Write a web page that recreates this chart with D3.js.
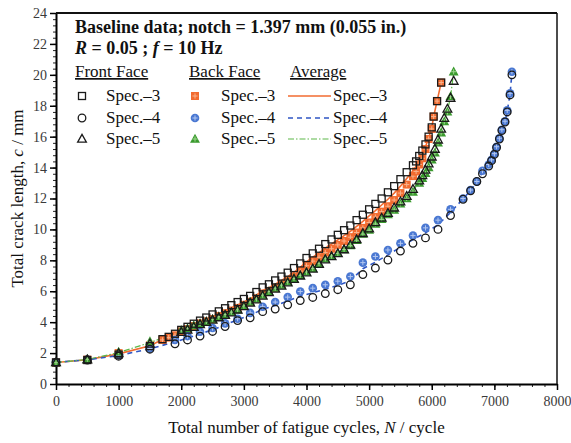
<!DOCTYPE html>
<html>
<head>
<meta charset="utf-8">
<script src="https://cdn.jsdelivr.net/npm/d3@7"></script>
<style>
  body { margin: 0; background: #fff; }
  svg { display: block; font-family: 'Liberation Serif', 'DejaVu Serif', serif; }
</style>
</head>
<body>
<div id="chart"></div>
<script>
'use strict';

//#region data
const xTicks = [0, 1000, 2000, 3000, 4000, 5000, 6000, 7000, 8000];
const yTicks = [0, 2, 4, 6, 8, 10, 12, 14, 16, 18, 20, 22, 24];

//Spec.-3
const spec3Cycles = [0, 500, 1000, 1500, 1700, 1800, 1900,
  2000, 2100, 2200, 2300, 2400, 2500, 2600, 2700, 2800, 2900,
  3000, 3100, 3200, 3300, 3400, 3500, 3600, 3700, 3800, 3900,
  4000, 4100, 4200, 4300, 4400, 4500, 4600, 4700, 4800, 4900,
  5000, 5100, 5200, 5300, 5400, 5500, 5600, 5700,
  5750, 5800, 5850, 5900, 5950, 6000, 6030, 6085, 6150];
const spec3Front = [1.4, 1.55, 1.9, 2.45, 2.9, 3.05, 3.25,
  3.5, 3.7, 3.9, 4.1, 4.3, 4.5, 4.7, 4.9, 5.1, 5.3,
  5.5, 5.7, 5.95, 6.25, 6.45, 6.7, 6.95, 7.2, 7.5, 7.8,
  8.15, 8.45, 8.75, 9.05, 9.35, 9.65, 9.95, 10.25, 10.6, 10.95,
  11.3, 11.65, 12.0, 12.4, 12.8, 13.25, 13.7, 14.15,
  14.4, 14.75, 15.1, 15.5, 16.0, 16.6, 17.3, 18.3, 19.5];
const spec3Back = [1.38, 1.58, 2.0, 2.5, 2.85, 3.0, 3.15,
  3.4, 3.55, 3.75, 3.92, 4.05, 4.2, 4.4, 4.58, 4.75, 4.92,
  5.12, 5.32, 5.55, 5.85, 6.02, 6.22, 6.45, 6.7, 6.95, 7.3,
  7.65, 7.95, 8.2, 8.5, 8.75, 9.0, 9.25, 9.5, 9.8, 10.1,
  10.45, 10.8, 11.15, 11.5, 11.9, 12.35, 12.9, 13.45,
  13.75, 14.2, 14.6, 15.2, 15.85, 16.5, 17.3, 18.3, 19.5];
const spec3Avg = [1.39, 1.57, 1.95, 2.48, 2.88, 3.03, 3.2,
  3.45, 3.62, 3.82, 4.0, 4.18, 4.35, 4.55, 4.74, 4.92, 5.11,
  5.31, 5.51, 5.75, 6.05, 6.23, 6.46, 6.7, 6.95, 7.22, 7.55,
  7.9, 8.2, 8.48, 8.78, 9.05, 9.32, 9.6, 9.88, 10.2, 10.52,
  10.88, 11.22, 11.58, 11.95, 12.35, 12.8, 13.3, 13.8,
  14.08, 14.48, 14.85, 15.35, 15.92, 16.55, 17.3, 18.3, 19.5];

//Spec.-4
const spec4Cycles = [0, 500, 1000, 1500, 1900,
  2100, 2300, 2500, 2700, 2900, 3100, 3300, 3500, 3700, 3900,
  4100, 4300, 4500, 4700, 4900, 5100, 5300, 5500, 5700, 5900,
  6100, 6300, 6500, 6620, 6720, 6810, 6910, 6955, 7000, 7035,
  7080, 7120, 7170, 7205, 7250, 7280];
const spec4Front = [1.4, 1.55, 1.8, 2.25, 2.6,
  2.85, 3.1, 3.4, 3.72, 4.1, 4.28, 4.68, 4.85, 5.12, 5.4,
  5.6, 5.85, 6.1, 6.42, 7.08, 7.5, 8.02, 8.6, 9.1, 9.45,
  10.0, 10.9, 11.95, 12.5, 13.1, 13.6, 14.1, 14.45, 14.85, 15.3,
  15.85, 16.4, 16.95, 17.6, 18.7, 20.0];
const spec4Back = [1.4, 1.58, 1.88, 2.3, 2.85,
  3.1, 3.38, 3.62, 3.92, 4.22, 4.6, 5.0, 5.3, 5.62, 5.98,
  6.2, 6.42, 6.65, 6.95, 7.85, 8.25, 8.67, 9.1, 9.6, 10.1,
  10.6, 11.3, 12.0, 12.55, 13.1, 13.8, 14.2, 14.5, 14.9, 15.35,
  15.9, 16.45, 17.0, 17.7, 18.8, 20.2];
const spec4Avg = [1.4, 1.57, 1.84, 2.28, 2.72,
  2.98, 3.24, 3.51, 3.82, 4.16, 4.44, 4.84, 5.08, 5.37, 5.69,
  5.9, 6.14, 6.38, 6.68, 7.46, 7.88, 8.35, 8.85, 9.35, 9.78,
  10.3, 11.1, 11.98, 12.52, 13.1, 13.7, 14.15, 14.48, 14.88, 15.32,
  15.88, 16.42, 16.98, 17.65, 18.75, 20.1];

//Spec.-5
const spec5Cycles = [0, 500, 1000, 1500,
  2000, 2100, 2200, 2300, 2400, 2500, 2600, 2700, 2800, 2900,
  3000, 3100, 3200, 3300, 3400, 3500, 3600, 3700, 3800, 3900,
  4000, 4100, 4200, 4300, 4400, 4500, 4600, 4700, 4800, 4900,
  5000, 5100, 5200, 5300, 5400, 5500, 5600, 5700, 5800,
  5850, 5900, 5950, 6000, 6050, 6100, 6150, 6200, 6250, 6300, 6350];
const spec5Front = [1.4, 1.58, 1.98, 2.6,
  3.35, 3.5, 3.68, 3.85, 4.0, 4.15, 4.3, 4.45, 4.62, 4.8,
  5.02, 5.25, 5.45, 5.7, 5.92, 6.15, 6.35, 6.55, 6.78, 7.0,
  7.2, 7.45, 7.75, 8.05, 8.25, 8.45, 8.7, 9.0, 9.35, 9.75,
  10.05, 10.45, 10.75, 11.05, 11.4, 11.8, 12.15, 12.6, 13.15,
  13.5, 13.85, 14.25, 14.7, 15.2, 15.8, 16.5, 17.2, 17.8, 18.5, 19.6];
const spec5Back = [1.38, 1.6, 2.08, 2.75,
  3.48, 3.6, 3.78, 3.92, 4.05, 4.2, 4.35, 4.5, 4.65, 4.8,
  5.05, 5.3, 5.5, 5.75, 5.98, 6.2, 6.4, 6.6, 6.82, 7.03,
  7.25, 7.48, 7.8, 8.1, 8.28, 8.45, 8.7, 8.95, 9.3, 9.7,
  9.95, 10.35, 10.65, 10.95, 11.25, 11.65, 12.0, 12.42, 13.0,
  13.3, 13.62, 14.0, 14.5, 14.95, 15.6, 16.25, 16.97, 17.6, 18.6, 20.2];
const spec5Avg = [1.39, 1.59, 2.03, 2.68,
  3.42, 3.55, 3.73, 3.88, 4.02, 4.18, 4.32, 4.48, 4.64, 4.8,
  5.04, 5.28, 5.48, 5.72, 5.95, 6.18, 6.38, 6.58, 6.8, 7.02,
  7.22, 7.46, 7.78, 8.08, 8.26, 8.45, 8.7, 8.98, 9.32, 9.72,
  10.0, 10.4, 10.7, 11.0, 11.32, 11.72, 12.08, 12.5, 13.08,
  13.4, 13.74, 14.12, 14.6, 15.08, 15.7, 16.38, 17.08, 17.7, 18.55, 20.2];

const specNames = ['Spec.\u20133', 'Spec.\u20134', 'Spec.\u20135'];
//#endregion

//#region layout and styles
let svgWidth = 571, svgHeight = 443;
let margin = {top: 13, right: 14, bottom: 59, left: 56};
let width = svgWidth - margin.left - margin.right;
let height = svgHeight - margin.top - margin.bottom;

const serif = 'Liberation Serif';
const orange = '#f26b30', orangeLight = '#f9b38c';
const blue = '#4a78d2', blueLight = '#b3c7f0';
const green = '#3a9a2e', greenLight = '#9fd68f';
//#endregion

let svg = d3.select('#chart').append('svg').attr('width', svgWidth).attr('height', svgHeight);
let g = svg.append('g').attr('transform', 'translate(' + margin.left + ',' + margin.top + ')');

let x = d3.scaleLinear().domain([0, 8000]).range([0, width]);
let y = d3.scaleLinear().domain([0, 24]).range([height, 0]);

drawAxes();

//series definitions, built from the arrays above
let series = [
  {cycles: spec3Cycles, front: spec3Front, back: spec3Back, avg: spec3Avg, shape: 'square', color: orange, light: orangeLight, dash: null, lw: 1.6},
  {cycles: spec4Cycles, front: spec4Front, back: spec4Back, avg: spec4Avg, shape: 'circle', color: blue, light: blueLight, dash: '5,4', lw: 1.6, lineColor: '#2f56c4'},
  {cycles: spec5Cycles, front: spec5Front, back: spec5Back, avg: spec5Avg, shape: 'triangle', color: green, light: greenLight, dash: '6,2,1.5,2', lw: 1.2, lineColor: '#5cb848'}
];

let plot = g.append('g');

//average lines
let line = d3.line().x(function(d) { return x(d.n); }).y(function(d) { return y(d.c); });
series.forEach(function(s) {
  let pts = s.cycles.map(function(n, i) { return {n: n, c: s.avg[i]}; });
  plot.append('path').attr('d', line(pts))
    .attr('fill', 'none').attr('stroke', s.lineColor || s.color).attr('stroke-width', s.lw)
    .attr('stroke-dasharray', s.dash);
});

//back face (filled) markers
series.forEach(function(s) {
  s.cycles.forEach(function(n, i) {
    backMarker(plot, x(n), y(s.back[i]), s);
  });
});

//front face (open) markers on top
series.forEach(function(s) {
  s.cycles.forEach(function(n, i) {
    frontMarker(plot, x(s.cycles[i]), y(s.front[i]), s.shape);
  });
});

drawLegend();

function drawAxes() {
  let xMinor = d3.range(0, 8001, 200);
  let yMinor = d3.range(0, 24.01, 0.4);

  //minor ticks first
  g.append('g').attr('transform', 'translate(0,' + height + ')')
    .call(d3.axisBottom(x).tickValues(xMinor).tickSize(3).tickFormat(''))
    .call(function(a) { a.select('.domain').remove(); a.selectAll('line').attr('stroke', '#222'); });
  g.append('g')
    .call(d3.axisLeft(y).tickValues(yMinor).tickSize(3).tickFormat(''))
    .call(function(a) { a.select('.domain').remove(); a.selectAll('line').attr('stroke', '#222'); });

  //major ticks + labels
  let xAxis = g.append('g').attr('transform', 'translate(0,' + height + ')')
    .call(d3.axisBottom(x).tickValues(xTicks).tickSize(6).tickPadding(6).tickSizeOuter(0).tickFormat(d3.format('d')));
  styleAxis(xAxis);

  let yAxis = g.append('g')
    .call(d3.axisLeft(y).tickValues(yTicks).tickSize(6).tickPadding(3).tickSizeOuter(0));
  styleAxis(yAxis);

  //top and right frame
  g.append('line').attr('x1', 0).attr('x2', width).attr('y1', 0).attr('y2', 0)
    .attr('stroke', '#111').attr('stroke-width', 2);
  g.append('line').attr('x1', width).attr('x2', width).attr('y1', 0).attr('y2', height)
    .attr('stroke', '#111').attr('stroke-width', 1.5);

  //axis titles
  let xt = svg.append('text').attr('x', margin.left + width / 2).attr('y', 433)
    .attr('text-anchor', 'middle').attr('font-size', 17).attr('fill', '#111');
  xt.append('tspan').text('Total number of fatigue cycles, ');
  xt.append('tspan').attr('font-style', 'italic').text('N');
  xt.append('tspan').text(' / cycle');

  let yt = svg.append('text').attr('transform', 'translate(23,' + (margin.top + height / 2) + ') rotate(-90)')
    .attr('text-anchor', 'middle').attr('font-size', 17).attr('fill', '#111');
  yt.append('tspan').text('Total crack length, ');
  yt.append('tspan').attr('font-style', 'italic').text('c');
  yt.append('tspan').text(' / mm');
}

function styleAxis(a) {
  a.attr('font-family', serif).attr('font-size', 14);
  a.selectAll('text').attr('font-family', serif).attr('fill', '#3a3a3a');
  a.select('.domain').attr('stroke-width', 2);
  a.selectAll('.tick line').attr('stroke-width', 1.5);
}

function frontMarker(parent, cx, cy, shape) {
  let st = {fill: 'none', stroke: '#1a1a1a', w: 1.3};
  if (shape === 'square') {
    parent.append('rect').attr('x', cx - 3.5).attr('y', cy - 3.5).attr('width', 7).attr('height', 7)
      .attr('fill', st.fill).attr('stroke', st.stroke).attr('stroke-width', st.w);
  } else if (shape === 'circle') {
    parent.append('circle').attr('cx', cx).attr('cy', cy).attr('r', 3.8)
      .attr('fill', st.fill).attr('stroke', st.stroke).attr('stroke-width', st.w);
  } else {
    parent.append('path').attr('d', triPath(cx, cy, 4.6))
      .attr('fill', st.fill).attr('stroke', st.stroke).attr('stroke-width', st.w);
  }
}

function backMarker(parent, cx, cy, s) {
  if (s.shape === 'square') {
    parent.append('rect').attr('x', cx - 4).attr('y', cy - 4).attr('width', 8).attr('height', 8)
      .attr('fill', s.color);
  } else if (s.shape === 'circle') {
    parent.append('circle').attr('cx', cx).attr('cy', cy).attr('r', 4.3).attr('fill', s.color);
  } else {
    parent.append('path').attr('d', triPath(cx, cy, 5.2)).attr('fill', s.color);
  }
  //light cross inside the filled marker
  parent.append('path').attr('d', 'M' + (cx - 2.6) + ',' + cy + 'H' + (cx + 2.6) + 'M' + cx + ',' + (cy - 2.6) + 'V' + (cy + 2.6))
    .attr('stroke', s.light).attr('stroke-width', 1).attr('fill', 'none');
}

function triPath(cx, cy, r) {
  return 'M' + cx + ',' + (cy - r) + 'L' + (cx + r * 0.95) + ',' + (cy + r * 0.7) + 'L' + (cx - r * 0.95) + ',' + (cy + r * 0.7) + 'Z';
}

function drawLegend() {
  let lg = svg.append('g').attr('fill', '#111');

  let t1 = lg.append('text').attr('x', 75).attr('y', 33).attr('font-size', 18).attr('font-weight', 'bold');
  t1.text('Baseline data; notch = 1.397 mm (0.055 in.)');

  let t2 = lg.append('text').attr('x', 75).attr('y', 54).attr('font-size', 18).attr('font-weight', 'bold');
  t2.append('tspan').attr('font-style', 'italic').text('R');
  t2.append('tspan').text(' = 0.05 ; ');
  t2.append('tspan').attr('font-style', 'italic').text('f');
  t2.append('tspan').text(' = 10 Hz');

  let heads = [['Front Face', 75], ['Back Face', 189], ['Average', 290]];
  heads.forEach(function(h) {
    lg.append('text').attr('x', h[1]).attr('y', 77).attr('font-size', 17)
      .attr('text-decoration', 'underline').text(h[0]);
  });

  let rowY = [96, 118, 139];
  series.forEach(function(s, i) {
    let ry = rowY[i];
    frontMarker(lg, 82, ry, s.shape);
    lg.append('text').attr('x', 106).attr('y', ry + 5).attr('font-size', 17).text(specNames[i]);
    backMarker(lg, 195, ry, s);
    lg.append('text').attr('x', 221).attr('y', ry + 5).attr('font-size', 17).text(specNames[i]);
    lg.append('line').attr('x1', 288).attr('x2', 331).attr('y1', ry).attr('y2', ry)
      .attr('stroke', s.lineColor || s.color).attr('stroke-width', s.lw).attr('stroke-dasharray', s.dash);
    lg.append('text').attr('x', 333).attr('y', ry + 5).attr('font-size', 17).text(specNames[i]);
  });
}
</script>
</body>
</html>
